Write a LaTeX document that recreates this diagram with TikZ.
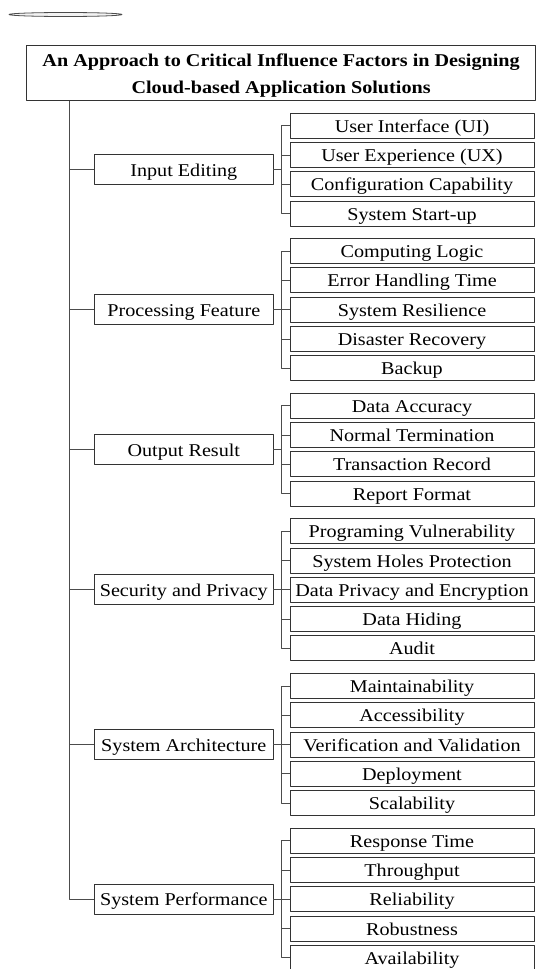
\documentclass[tikz,border=0pt]{standalone}
\usepackage{fontspec}
\setmainfont{Liberation Serif}[FakeStretch=1.12]
\usetikzlibrary{positioning,calc}

\begin{document}
\begin{tikzpicture}[x=1pt, y=-1pt, font=\fontsize{18}{21}\selectfont, line join=round,
	node distance=4.3pt,
	titlebox/.style={draw=black!80, line width=0.9pt, minimum width=509pt, minimum height=55pt,
		align=center, inner sep=1pt, outer sep=0pt, font=\fontsize{18}{27.5}\selectfont\bfseries},
	catbox/.style={draw=black!80, line width=0.9pt, minimum width=179pt, minimum height=30pt,
		inner sep=1pt, outer sep=0pt, text height=13pt, text depth=0pt},
	leafbox/.style={draw=black!80, line width=0.9pt, minimum width=244pt, minimum height=25pt,
		inner sep=1pt, outer sep=0pt, text height=13pt, text depth=0pt},
	link/.style={draw=black!70, line width=0.8pt}]
	\useasboundingbox (0,0) rectangle (536,969);
	
	% small flat ellipse at the top
	\draw[black!70, line width=0.8pt, fill=black!5] (65.5,14.5) ellipse [x radius=56.5, y radius=2];
	
	\node[titlebox] (title) at (281.1,73.1) {\rule{0pt}{18pt}An Approach to Critical Influence Factors in Designing\\ Cloud-based Application Solutions};
	\coordinate (tr) at (69,0);   % trunk
	\coordinate (bx) at (281.7,0); % brackets
	
	% Input Editing
	\node[leafbox] (ui) at (412,125.7) {User Interface (UI)};
	\node[leafbox, below=of ui] (ux) {User Experience (UX)};
	\node[leafbox, below=of ux] (cf) {Configuration Capability};
	\node[leafbox, below=of cf] (su) {System Start-up};
	\node[catbox, anchor=east, xshift=-16.7pt] (ie) at ($(ux.west)!0.5!(cf.west)$) {Input Editing};
	
	% Processing Feature
	\node[leafbox, below=12.5pt of su] (cl) {Computing Logic};
	\node[leafbox, below=of cl] (eh) {Error Handling Time};
	\node[leafbox, below=of eh] (sr) {System Resilience};
	\node[leafbox, below=of sr] (dr) {Disaster Recovery};
	\node[leafbox, below=of dr] (bk) {Backup};
	\node[catbox, left=16.7pt of sr] (pf) {Processing Feature};
	
	% Output Result
	\node[leafbox, below=12.5pt of bk] (da) {Data Accuracy};
	\node[leafbox, below=of da] (nt) {Normal Termination};
	\node[leafbox, below=of nt] (tx) {Transaction Record};
	\node[leafbox, below=of tx] (rf) {Report Format};
	\node[catbox, anchor=east, xshift=-16.7pt] (or) at ($(nt.west)!0.5!(tx.west)$) {Output Result};
	
	% Security and Privacy
	\node[leafbox, below=12.5pt of rf] (pv) {Programing Vulnerability};
	\node[leafbox, below=of pv] (hp) {System Holes Protection};
	\node[leafbox, below=of hp] (de) {Data Privacy and Encryption};
	\node[leafbox, below=of de] (dh) {Data Hiding};
	\node[leafbox, below=of dh] (au) {Audit};
	\node[catbox, left=16.7pt of de] (sec) {Security and Privacy};
	
	% System Architecture
	\node[leafbox, below=12.5pt of au] (mt) {Maintainability};
	\node[leafbox, below=of mt] (ac) {Accessibility};
	\node[leafbox, below=of ac] (vv) {Verification and Validation};
	\node[leafbox, below=of vv] (dp) {Deployment};
	\node[leafbox, below=of dp] (sc) {Scalability};
	\node[catbox, left=16.7pt of vv] (sa) {System Architecture};
	
	% System Performance
	\node[leafbox, below=12.5pt of sc] (rt) {Response Time};
	\node[leafbox, below=of rt] (tp) {Throughput};
	\node[leafbox, below=of tp] (rl) {Reliability};
	\node[leafbox, below=of rl] (rb) {Robustness};
	\node[leafbox, below=of rb] (av) {Availability};
	\node[catbox, left=16.7pt of rl] (sp) {System Performance};
	
	% trunk from the title to each factor
	\draw[link] (title.south -| tr) |- (sp.west);
	\draw[link] (ie.west) -- (ie.west -| tr);
	\draw[link] (pf.west) -- (pf.west -| tr);
	\draw[link] (or.west) -- (or.west -| tr);
	\draw[link] (sec.west) -- (sec.west -| tr);
	\draw[link] (sa.west) -- (sa.west -| tr);
	
	% brackets to the sub-factors
	\draw[link] (ie.east) -- (ie.east -| bx);
	\draw[link] (ui.west) -| (bx |- su.west) -- (su.west);
	\draw[link] (ux.west) -- (ux.west -| bx);
	\draw[link] (cf.west) -- (cf.west -| bx);
	
	\draw[link] (pf.east) -- (sr.west);
	\draw[link] (cl.west) -| (bx |- bk.west) -- (bk.west);
	\draw[link] (eh.west) -- (eh.west -| bx);
	\draw[link] (dr.west) -- (dr.west -| bx);
	
	\draw[link] (or.east) -- (or.east -| bx);
	\draw[link] (da.west) -| (bx |- rf.west) -- (rf.west);
	\draw[link] (nt.west) -- (nt.west -| bx);
	\draw[link] (tx.west) -- (tx.west -| bx);
	
	\draw[link] (sec.east) -- (de.west);
	\draw[link] (pv.west) -| (bx |- au.west) -- (au.west);
	\draw[link] (hp.west) -- (hp.west -| bx);
	\draw[link] (dh.west) -- (dh.west -| bx);
	
	\draw[link] (sa.east) -- (vv.west);
	\draw[link] (mt.west) -| (bx |- sc.west) -- (sc.west);
	\draw[link] (ac.west) -- (ac.west -| bx);
	\draw[link] (dp.west) -- (dp.west -| bx);
	
	\draw[link] (sp.east) -- (rl.west);
	\draw[link] (rt.west) -| (bx |- av.west) -- (av.west);
	\draw[link] (tp.west) -- (tp.west -| bx);
	\draw[link] (rb.west) -- (rb.west -| bx);
\end{tikzpicture}
\end{document}
